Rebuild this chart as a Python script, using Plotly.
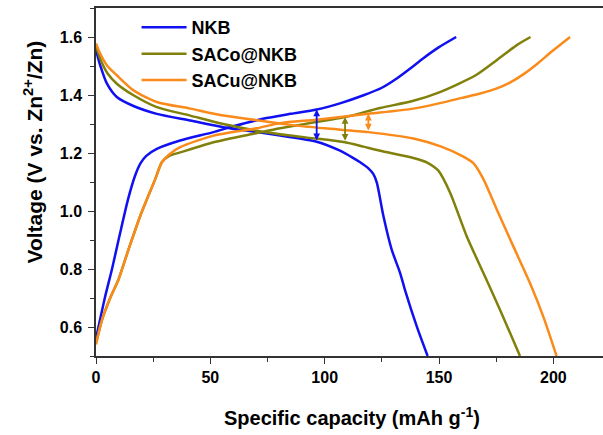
import plotly.graph_objects as go

# ---------------- data ----------------
nkb_charge_x = [0, 4, 7, 10, 14, 17, 19.5, 22, 26.6, 36.8, 51.4, 60, 73, 85, 96.5, 107, 117, 125, 131.5, 138, 143, 150, 157.5]
nkb_charge_y = [0.56, 0.705, 0.80, 0.905, 1.04, 1.12, 1.165, 1.19, 1.214, 1.243, 1.272, 1.292, 1.318, 1.335, 1.35, 1.372, 1.399, 1.425, 1.457, 1.495, 1.526, 1.565, 1.60]

nkb_dis_x = [0, 1.8, 4.8, 9.1, 16.4, 26.6, 41.2, 55.7, 70.3, 80.5, 96.5, 106.7, 112, 115.5, 119, 121.3, 122.8, 125.7, 129.3, 133, 135.1, 140.3, 145]
nkb_dis_y = [1.555, 1.503, 1.439, 1.393, 1.362, 1.335, 1.312, 1.289, 1.272, 1.26, 1.239, 1.208, 1.185, 1.168, 1.148, 1.127, 1.098, 0.982, 0.867, 0.786, 0.728, 0.601, 0.50]

saco_charge_x = [0, 2.6, 6.2, 9.8, 14.2, 19.3, 25.9, 28.8, 32, 36.8, 51.4, 70, 80.5, 95, 108.9, 124.2, 138.8, 150.4, 166, 175.2, 184, 190]
saco_charge_y = [0.545, 0.624, 0.70, 0.763, 0.867, 0.982, 1.11, 1.168, 1.19, 1.202, 1.237, 1.268, 1.285, 1.305, 1.324, 1.355, 1.38, 1.41, 1.468, 1.52, 1.572, 1.60]

saco_dis_x = [0, 1.8, 5, 9.1, 16.4, 26.6, 41.2, 55.7, 70.3, 84.9, 96, 108.9, 116.9, 124.2, 138.8, 144.6, 149.7, 154.8, 162.1, 169.4, 176.7, 185.4]
saco_dis_y = [1.57, 1.526, 1.475, 1.439, 1.399, 1.358, 1.329, 1.30, 1.277, 1.26, 1.25, 1.237, 1.222, 1.208, 1.183, 1.168, 1.139, 1.064, 0.913, 0.786, 0.659, 0.50]

sacu_charge_x = [0, 2.6, 6.2, 9.8, 14.2, 19.3, 25.9, 28.8, 32, 36.8, 51.4, 70, 80.5, 96.5, 119.1, 138.8, 150.4, 160, 168, 175, 181, 187, 193, 199, 207.3]
sacu_charge_y = [0.54, 0.624, 0.70, 0.763, 0.867, 0.982, 1.11, 1.168, 1.195, 1.22, 1.26, 1.285, 1.303, 1.315, 1.335, 1.353, 1.372, 1.39, 1.405, 1.422, 1.443, 1.472, 1.508, 1.548, 1.60]

sacu_dis_x = [0, 1.8, 5, 9.1, 16.4, 26.6, 41.2, 55.7, 70.3, 84.9, 100, 119.1, 138.8, 151, 160, 165, 169.4, 175.2, 182.5, 189.8, 195.6, 201.4]
sacu_dis_y = [1.578, 1.543, 1.50, 1.468, 1.416, 1.376, 1.353, 1.329, 1.313, 1.297, 1.285, 1.272, 1.25, 1.222, 1.19, 1.165, 1.11, 1.006, 0.878, 0.751, 0.636, 0.50]

# polarization arrows: (capacity, lower V, upper V)
arrow_x = [96.5, 108.9, 119.1]
arrow_low = [1.239, 1.237, 1.272]
arrow_high = [1.35, 1.324, 1.335]

names = ["NKB", "SACo@NKB", "SACu@NKB"]
colors = ["#1010F0", "#80800A", "#FA8A1A"]

x_ticks = [0, 50, 100, 150, 200]
y_ticks = [0.6, 0.8, 1.0, 1.2, 1.4, 1.6]

series = [
    (nkb_charge_x, nkb_charge_y, nkb_dis_x, nkb_dis_y),
    (saco_charge_x, saco_charge_y, saco_dis_x, saco_dis_y),
    (sacu_charge_x, sacu_charge_y, sacu_dis_x, sacu_dis_y),
]

FONT = "Liberation Sans, Arial, sans-serif"

fig = go.Figure()
for i, (cx, cy, dx, dy) in enumerate(series):
    fig.add_trace(go.Scatter(x=cx, y=cy, mode="lines", name=names[i],
                             line=dict(color=colors[i], width=2.5, shape="spline", smoothing=0.7),
                             legendgroup=names[i], showlegend=True))
    fig.add_trace(go.Scatter(x=dx, y=dy, mode="lines", name=names[i],
                             line=dict(color=colors[i], width=2.5, shape="spline", smoothing=0.7),
                             legendgroup=names[i], showlegend=False))

for i in range(3):
    fig.add_annotation(x=arrow_x[i], y=arrow_high[i], ax=arrow_x[i], ay=arrow_low[i],
                       xref="x", yref="y", axref="x", ayref="y", text="",
                       showarrow=True, arrowhead=2, arrowside="end+start",
                       arrowsize=0.75, arrowwidth=1.8, arrowcolor=colors[i])

fig.add_annotation(text="Voltage (V vs. Zn<sup>2+</sup>/Zn)", textangle=-90,
                   xref="paper", yref="paper", x=-0.124, y=0.585,
                   xanchor="center", yanchor="middle", showarrow=False,
                   font=dict(family=FONT, size=21, color="black", weight="bold"))
fig.add_annotation(text="Specific capacity (mAh g<sup>-1</sup>)",
                   xref="paper", yref="paper", x=0.505, y=-0.175,
                   xanchor="center", yanchor="middle", showarrow=False,
                   font=dict(family=FONT, size=20, color="black", weight="bold"))

axis_common = dict(showgrid=False, zeroline=False, showline=True, linecolor="#333333",
                   linewidth=1.5, ticks="outside", ticklen=6, tickwidth=1.2, tickcolor="#333333",
                   tickfont=dict(family=FONT, size=16, color="black", weight="bold"))

fig.update_xaxes(range=[0, 221.7], tickvals=x_ticks, ticktext=[str(v) for v in x_ticks],
                 mirror=True, minor=dict(dtick=25, tick0=0, ticks="outside", ticklen=4, tickcolor="#333333"),
                 **axis_common)
fig.update_yaxes(range=[0.5, 1.7], tickvals=y_ticks, ticktext=[f"{v:.1f}" for v in y_ticks],
                 ticklabelstandoff=3,
                 minor=dict(dtick=0.1, tick0=0.5, ticks="outside", ticklen=4, tickcolor="#333333"),
                 **axis_common)

fig.update_layout(
    width=603, height=435,
    margin=dict(l=96, r=0, t=8, b=79),
    paper_bgcolor="white", plot_bgcolor="white",
    legend=dict(x=0.08, y=0.997, xanchor="left", yanchor="top", bgcolor="rgba(0,0,0,0)",
                font=dict(family=FONT, size=18, color="black", weight="bold"),
                itemwidth=45, tracegroupgap=0),
)

fig.write_html("out.html")
